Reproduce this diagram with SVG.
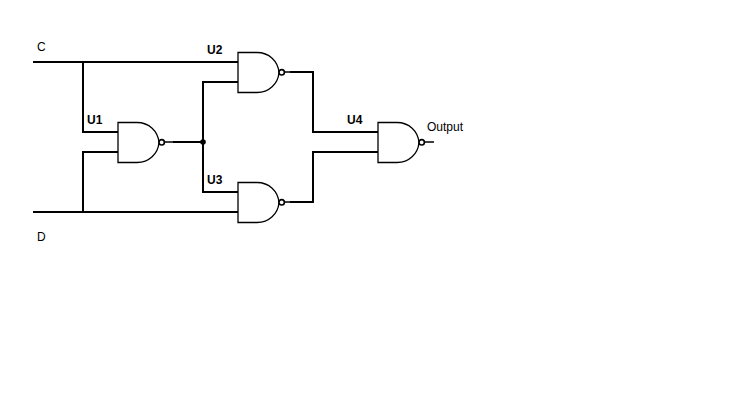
<svg xmlns="http://www.w3.org/2000/svg" width="740" height="419" viewBox="0 0 740 419">
<style>
text{font-family:"Liberation Sans",Arial,sans-serif;font-size:12px;fill:#000}
.b{font-weight:bold}
.w{fill:none;stroke:#000;stroke-width:2}
.t{fill:none;stroke:#000;stroke-width:1.6}
.g{fill:#fff;stroke:#000;stroke-width:1.3}
.o{fill:#fff;stroke:#000;stroke-width:1.6}
</style>
<defs>
<g id="nand">
<path class="g" d="M0 0.5H19C31 0.5 40 9 41 20.5C40 32 31 40.5 19 40.5H0Z"/>
<circle class="o" cx="43.7" cy="20.3" r="2.7"/>
</g>
</defs>
<rect width="740" height="419" fill="#fff"/>
<g id="connectors">
<path class="w" d="M33 62H238M83 62V132H118M33 212H238M83 212V152H118"/>
<path class="w" d="M173 142H203M203 142V82H238M203 142V192H238"/>
<path class="w" d="M290 72H313V132H378M290 202H313V152H378"/>
<path class="t" d="M165 142H173M285 72H290M285 202H290M425 142H434"/>
<circle cx="203" cy="142" r="2.8" fill="#000"/>
</g>
<g id="U1"><use href="#nand" x="118" y="122"/><text class="b" x="87" y="124">U1</text></g>
<g id="U2"><use href="#nand" x="238" y="52"/><text class="b" x="207" y="54">U2</text></g>
<g id="U3"><use href="#nand" x="238" y="182"/><text class="b" x="207" y="184">U3</text></g>
<g id="U4"><use href="#nand" x="378" y="122"/><text class="b" x="347" y="124">U4</text></g>
<g id="C"><text x="37" y="51">C</text></g>
<g id="D"><text x="37" y="241">D</text></g>
<g id="Output"><text x="427" y="131">Output</text></g>
</svg>
